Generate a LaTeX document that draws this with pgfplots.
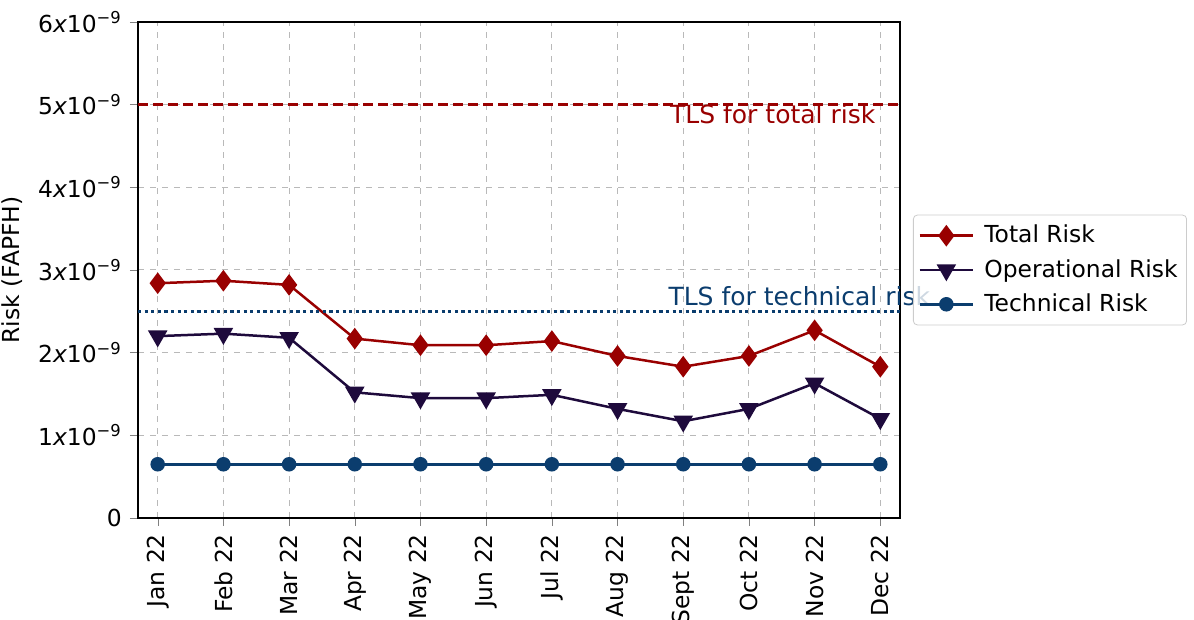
\documentclass[border=0pt]{standalone}
\usepackage{fontspec}
\setmainfont{DejaVu Sans}
\usepackage{pgfplots}
\pgfplotsset{compat=1.18}
\definecolor{totc}{HTML}{990000}
\definecolor{opc}{HTML}{1E0A3C}
\definecolor{tecc}{HTML}{0B3D6E}
\newcommand{\ex}[1]{#1{\itshape x}10\textsuperscript{−9}}
\newcommand{\fs}{\fontsize{11.7}{14}\selectfont}
\newcommand{\fl}{\fontsize{12.5}{15}\selectfont}
\begin{document}
\fs
\begin{tikzpicture}
\useasboundingbox (0,0) rectangle (597pt,310pt);
\begin{axis}[
  at={(69pt,51pt)}, anchor=south west,
  scale only axis, width=381pt, height=248pt,
  xmin=-0.3, xmax=11.3, ymin=0, ymax=6,
  xtick={0,...,11},
  xticklabels={Jan 22,Feb 22,Mar 22,Apr 22,May 22,Jun 22,Jul 22,Aug 22,Sept 22,Oct 22,Nov 22,Dec 22},
  xticklabel style={rotate=90, anchor=east, font=\fs},
  ytick={0,1,2,3,4,5,6},
  yticklabels={0,{\ex{1}},{\ex{2}},{\ex{3}},{\ex{4}},{\ex{5}},{\ex{6}}},
  yticklabel style={font=\fs},
  tick align=outside, tick pos=left,
  major tick length=4pt,
  grid=major,
  major grid style={gray!55, dashed, line width=0.5pt},
  axis line style={line width=0.8pt},
  ylabel={Risk (FAPFH)},
  ylabel style={font=\fs},
  /pgf/number format/assume math mode=true,
  legend style={at={(1.017,0.5)}, anchor=west, draw=gray!40, rounded corners=2pt,
    fill=white, fill opacity=0.8, text opacity=1, font=\fs,
    row sep=2.5pt, inner xsep=2.5pt, inner ysep=3pt},
  legend cell align=left,
  legend image code/.code={\draw[mark repeat=2,mark phase=2,#1,line width=1.25pt,opacity=1,fill opacity=1] plot coordinates {(0cm,0cm) (0.47cm,0cm) (0.94cm,0cm)};},
  clip=false,
]
\addplot[totc, line width=1.25pt, mark=diamond*, mark size=4.4pt, mark options={solid}]
  coordinates {(0,2.84)(1,2.87)(2,2.82)(3,2.17)(4,2.09)(5,2.09)(6,2.14)(7,1.96)(8,1.83)(9,1.96)(10,2.27)(11,1.83)};
\addlegendentry{\hspace{3pt}Total Risk}
\addplot[opc, line width=1.25pt, mark=triangle*, mark size=4.4pt, mark options={solid, rotate=180}]
  coordinates {(0,2.20)(1,2.23)(2,2.18)(3,1.52)(4,1.45)(5,1.45)(6,1.49)(7,1.32)(8,1.17)(9,1.32)(10,1.63)(11,1.20)};
\addlegendentry{\hspace{3pt}Operational Risk}
\addplot[tecc, line width=1.25pt, mark=*, mark size=3pt]
  coordinates {(0,0.65)(1,0.65)(2,0.65)(3,0.65)(4,0.65)(5,0.65)(6,0.65)(7,0.65)(8,0.65)(9,0.65)(10,0.65)(11,0.65)};
\addlegendentry{\hspace{3pt}Technical Risk}
\addplot[totc, line width=1.8pt, dash pattern=on 5pt off 2.5pt, forget plot]
  coordinates {(-0.3,5)(11.3,5)};
\addplot[tecc, line width=1.7pt, dash pattern=on 1.6pt off 1.7pt, forget plot]
  coordinates {(-0.3,2.5)(11.3,2.5)};
\node[totc, anchor=east, inner sep=0pt, font=\fl] at (axis cs:10.93,4.89) {TLS for total risk};
\node[tecc, anchor=west, inner sep=0pt, font=\fl] at (axis cs:7.77,2.68) {TLS for technical risk};
\end{axis}
\end{tikzpicture}
\end{document}
